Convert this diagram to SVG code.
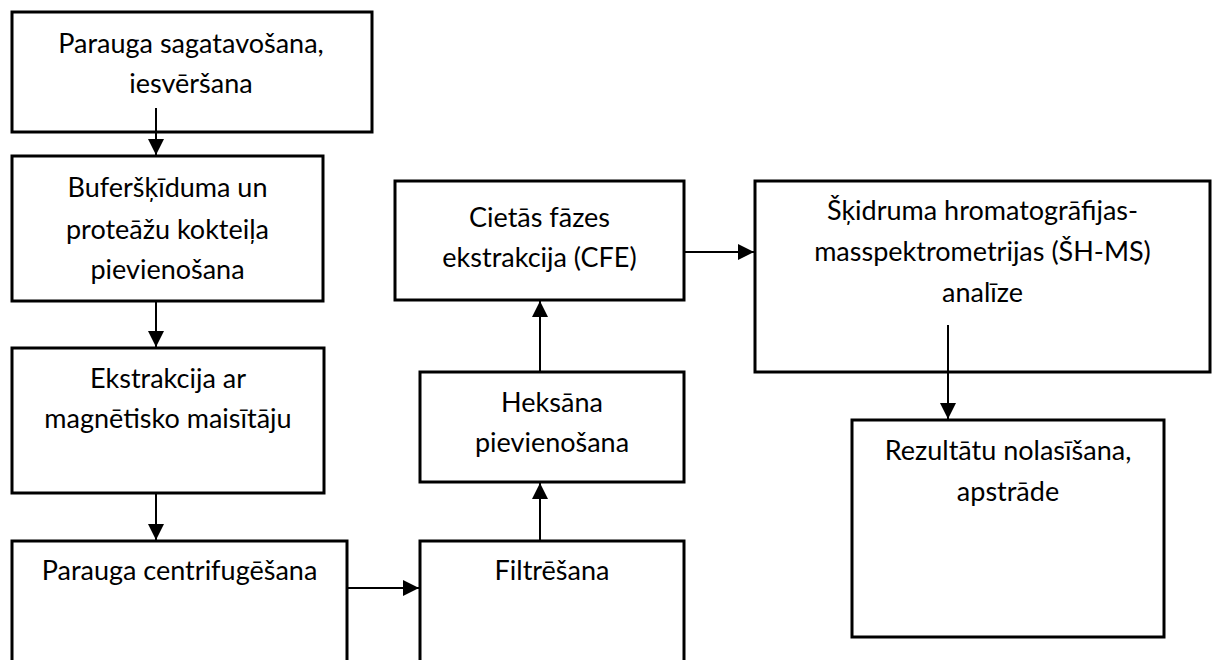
<svg xmlns="http://www.w3.org/2000/svg" width="1213" height="660" viewBox="0 0 1213 660">
<style>
.box{fill:#fff;stroke:#000;stroke-width:3}
.lbl{font-family:Lato,"Liberation Sans",sans-serif;font-size:27px;fill:#000;text-anchor:middle}
.conn{stroke:#000;stroke-width:2;fill:none}
</style>
<defs>
<marker id="ah" markerUnits="userSpaceOnUse" markerWidth="16" markerHeight="16" refX="16" refY="8" orient="auto">
<path d="M0,0 L16,8 L0,16 z" fill="#000"/>
</marker>
</defs>
<rect width="1213" height="660" fill="#fff"/>
<g id="n1"><rect class="box" x="12" y="12" width="360" height="120"/>
<text class="lbl" x="191" y="53">Parauga sagatavošana,</text>
<text class="lbl" x="191" y="93">iesvēršana</text></g>
<g id="n2"><rect class="box" x="12" y="156" width="311" height="145"/>
<text class="lbl" x="167.5" y="197">Buferšķīduma un</text>
<text class="lbl" x="167.5" y="239">proteāžu kokteiļa</text>
<text class="lbl" x="167.5" y="279">pievienošana</text></g>
<g id="n3"><rect class="box" x="12" y="348" width="312" height="145"/>
<text class="lbl" x="168" y="388">Ekstrakcija ar</text>
<text class="lbl" x="168" y="428">magnētisko maisītāju</text></g>
<g id="n4"><rect class="box" x="12" y="541" width="335" height="130"/>
<text class="lbl" x="179.5" y="580">Parauga centrifugēšana</text></g>
<g id="n5"><rect class="box" x="420" y="541" width="264" height="130"/>
<text class="lbl" x="552" y="580">Filtrēšana</text></g>
<g id="n6"><rect class="box" x="420" y="372" width="264" height="110"/>
<text class="lbl" x="552" y="412">Heksāna</text>
<text class="lbl" x="552" y="452">pievienošana</text></g>
<g id="n7"><rect class="box" x="395" y="181" width="289" height="119"/>
<text class="lbl" x="539.5" y="227">Cietās fāzes</text>
<text class="lbl" x="539.5" y="267">ekstrakcija (CFE)</text></g>
<g id="n8"><rect class="box" x="755" y="181" width="455" height="191"/>
<text class="lbl" x="982.5" y="220">Šķidruma hromatogrāfijas-</text>
<text class="lbl" x="982.5" y="261">masspektrometrijas (ŠH-MS)</text>
<text class="lbl" x="982.5" y="302">analīze</text></g>
<g id="n9"><rect class="box" x="852" y="420" width="312" height="217"/>
<text class="lbl" x="1008" y="460">Rezultātu nolasīšana,</text>
<text class="lbl" x="1008" y="501">apstrāde</text></g>
<g id="connectors">
<line class="conn" x1="156" y1="108" x2="156" y2="155" marker-end="url(#ah)"/>
<line class="conn" x1="156" y1="302" x2="156" y2="347" marker-end="url(#ah)"/>
<line class="conn" x1="156" y1="494" x2="156" y2="540" marker-end="url(#ah)"/>
<line class="conn" x1="348" y1="588" x2="419" y2="588" marker-end="url(#ah)"/>
<line class="conn" x1="540" y1="540" x2="540" y2="483" marker-end="url(#ah)"/>
<line class="conn" x1="540" y1="371" x2="540" y2="301" marker-end="url(#ah)"/>
<line class="conn" x1="685" y1="252" x2="754" y2="252" marker-end="url(#ah)"/>
<line class="conn" x1="948" y1="325" x2="948" y2="419" marker-end="url(#ah)"/>
</g>
</svg>
